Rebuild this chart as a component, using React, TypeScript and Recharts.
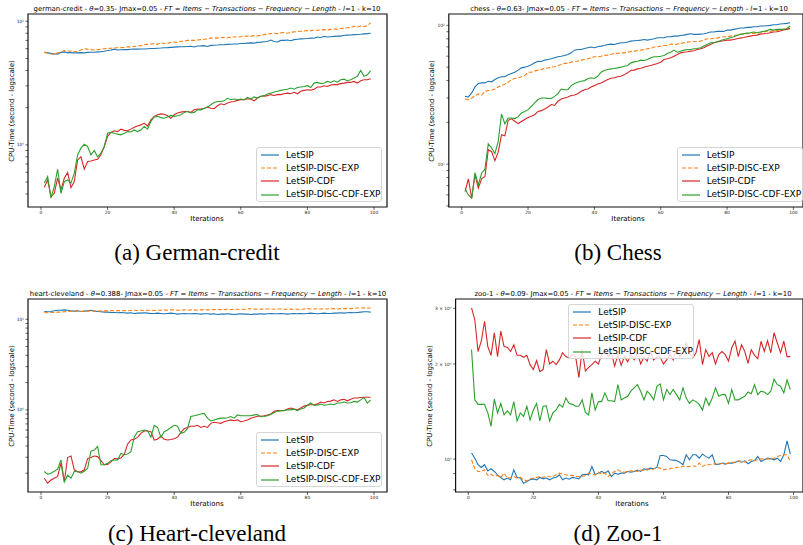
import React from 'react';
import { LineChart, Line, XAxis, YAxis, Legend, ReferenceArea } from 'recharts';

const iterations = [
  1, 2, 3, 4, 5, 6, 7, 8, 9, 10, 11, 12, 13, 14, 15, 16, 17, 18, 19, 20,
  21, 22, 23, 24, 25, 26, 27, 28, 29, 30, 31, 32, 33, 34, 35, 36, 37, 38, 39, 40,
  41, 42, 43, 44, 45, 46, 47, 48, 49, 50, 51, 52, 53, 54, 55, 56, 57, 58, 59, 60,
  61, 62, 63, 64, 65, 66, 67, 68, 69, 70, 71, 72, 73, 74, 75, 76, 77, 78, 79, 80,
  81, 82, 83, 84, 85, 86, 87, 88, 89, 90, 91, 92, 93, 94, 95, 96, 97, 98, 99,
];

const seriesNames = ['LetSIP', 'LetSIP-DISC-EXP', 'LetSIP-CDF', 'LetSIP-DISC-CDF-EXP'];
const seriesColors = ['#1f77b4', '#ff7f0e', '#d62728', '#2ca02c'];
const seriesDash = [undefined, '4 2', undefined, undefined];
const xTicks = [0, 20, 40, 60, 80, 100];

// german-credit
const germanLetSIP = [
  5.6, 5.55, 5.5, 5.45, 5.42, 5.6, 5.65, 5.55, 5.6, 5.55, 5.55, 5.57, 5.55, 5.6, 5.62, 5.62, 5.65, 5.68, 5.72, 5.8,
  5.85, 5.95, 5.85, 5.88, 5.9, 5.9, 5.93, 5.95, 5.95, 5.97, 5.97, 6.0, 6.02, 6.02, 6.05, 6.07, 6.1, 6.12, 6.15, 6.18,
  6.2, 6.22, 6.22, 6.25, 6.28, 6.2, 6.3, 6.32, 6.35, 6.25, 6.38, 6.4, 6.42, 6.45, 6.45, 6.5, 6.52, 6.55, 6.55, 6.6,
  6.6, 6.65, 6.68, 6.65, 6.75, 6.78, 6.82, 6.85, 7.05, 6.85, 6.8, 7.0, 7.0, 7.05, 6.95, 7.1, 7.15, 7.2, 7.22, 7.25,
  7.3, 7.28, 7.45, 7.35, 7.55, 7.45, 7.5, 7.55, 7.6, 7.58, 7.7, 7.72, 7.75, 7.8, 7.82, 7.85, 7.9, 7.95, 8.0,
];
const germanDiscExp = [
  5.6, 5.55, 5.45, 5.4, 5.55, 5.65, 5.8, 5.75, 5.75, 5.65, 5.7, 5.85, 6.0, 5.95, 5.9, 5.85, 5.9, 5.95, 6.0, 6.05,
  6.05, 6.1, 6.1, 6.12, 6.15, 6.2, 6.2, 6.25, 6.3, 6.35, 6.45, 6.5, 6.55, 6.6, 6.5, 6.7, 6.6, 6.65, 6.75, 6.8,
  6.75, 6.9, 6.9, 7.0, 7.0, 7.0, 7.05, 7.1, 7.15, 7.2, 7.3, 7.35, 7.3, 7.4, 7.4, 7.35, 7.45, 7.45, 7.5, 7.5,
  7.55, 7.6, 7.55, 7.65, 7.6, 7.7, 7.8, 7.85, 7.95, 8.0, 7.95, 8.05, 8.1, 8.0, 8.15, 8.2, 8.25, 8.3, 8.35, 8.4,
  8.4, 8.45, 8.45, 8.5, 8.55, 8.5, 8.6, 8.65, 8.6, 8.75, 8.8, 8.85, 8.9, 9.1, 9.0, 9.15, 9.05, 9.2, 9.7,
];
const germanCdf = [
  0.454, 0.52, 0.381, 0.405, 0.537, 0.432, 0.537, 0.597, 0.45, 0.504, 0.755, 0.8, 0.635, 0.733, 0.74, 0.755, 0.765, 0.83, 0.97, 1.17,
  1.26, 1.3, 1.28, 1.34, 1.31, 1.3, 1.34, 1.39, 1.42, 1.45, 1.5, 1.42, 1.59, 1.7, 1.75, 1.78, 1.77, 1.72, 1.64, 1.75,
  1.81, 1.84, 1.86, 1.86, 1.83, 1.92, 1.95, 1.95, 1.98, 2.02, 1.98, 1.96, 2.07, 2.15, 2.11, 2.18, 2.22, 2.24, 2.29, 2.32,
  2.32, 2.36, 2.35, 2.27, 2.39, 2.47, 2.47, 2.5, 2.55, 2.51, 2.55, 2.55, 2.59, 2.62, 2.59, 2.66, 2.59, 2.71, 2.76, 2.79,
  2.77, 2.82, 2.94, 2.94, 3.01, 2.97, 3.05, 3.07, 3.07, 3.13, 3.16, 3.2, 3.2, 3.26, 3.16, 3.3, 3.36, 3.36, 3.43,
];
const germanDiscCdfExp = [
  0.49, 0.553, 0.37, 0.46, 0.635, 0.405, 0.504, 0.52, 0.49, 0.59, 0.83, 0.94, 1.01, 0.97, 0.83, 0.9, 0.8, 0.855, 0.97, 1.24,
  1.26, 1.24, 1.22, 1.205, 1.24, 1.28, 1.27, 1.32, 1.28, 1.32, 1.41, 1.34, 1.55, 1.68, 1.7, 1.66, 1.64, 1.68, 1.73, 1.7,
  1.72, 1.75, 1.83, 1.86, 1.81, 1.83, 1.92, 1.92, 1.97, 2.02, 2.11, 2.2, 2.24, 2.24, 2.27, 2.38, 2.32, 2.35, 2.32, 2.35,
  2.32, 2.42, 2.35, 2.44, 2.39, 2.47, 2.5, 2.58, 2.62, 2.68, 2.71, 2.76, 2.79, 2.82, 2.88, 2.82, 2.91, 2.94, 2.97, 3.01,
  2.91, 3.16, 3.2, 3.13, 3.16, 3.26, 3.2, 3.3, 3.22, 3.36, 3.4, 3.3, 3.36, 3.47, 3.58, 4.0, 3.58, 3.69, 3.98,
];

// chess
const chessLetSIP = [
  30.8, 30.5, 32.6, 36.0, 38.1, 38.5, 38.5, 39.6, 39.2, 40.7, 41.9, 42.6, 42.6, 44.0, 45.0, 46.0, 47.6, 49.4, 50.0, 50.8,
  52.0, 53.7, 55.2, 54.9, 56.2, 56.8, 57.4, 58.4, 59.4, 60.0, 60.7, 61.7, 63.4, 66.3, 67.0, 67.0, 68.2, 69.0, 69.8, 69.0,
  70.2, 70.9, 71.7, 72.9, 73.3, 72.9, 74.1, 74.9, 74.9, 75.8, 77.0, 77.5, 77.9, 78.3, 79.2, 78.3, 79.2, 80.1, 81.4, 81.4,
  81.4, 82.8, 82.8, 83.7, 83.7, 84.6, 85.1, 86.1, 87.0, 86.1, 86.1, 86.5, 87.0, 88.0, 89.5, 89.5, 90.5, 90.5, 90.5, 92.5,
  92.5, 93.6, 94.6, 95.7, 95.7, 96.7, 96.7, 97.8, 97.8, 98.9, 98.9, 99.4, 100, 101.1, 101.1, 102.2, 102.8, 103.4, 104.5,
];
const chessDiscExp = [
  29.5, 29.2, 30.0, 31.2, 32.1, 31.5, 33.5, 33.9, 34.1, 34.8, 36.0, 36.8, 37.7, 38.9, 40.7, 41.4, 41.9, 42.6, 43.5, 46.0,
  46.0, 46.8, 47.6, 48.1, 48.9, 49.4, 50.0, 50.3, 51.4, 52.3, 53.2, 53.2, 54.3, 55.2, 55.2, 56.2, 56.8, 57.4, 58.4, 59.4,
  59.4, 60.0, 60.7, 61.0, 61.7, 62.8, 62.8, 63.4, 63.4, 64.1, 64.9, 65.2, 65.9, 66.3, 67.0, 67.8, 68.5, 69.8, 70.2, 70.9,
  71.7, 71.7, 73.3, 72.9, 73.3, 74.1, 74.9, 75.8, 76.2, 76.2, 76.6, 77.0, 78.3, 80.1, 80.1, 80.5, 81.0, 82.3, 82.8, 82.8,
  83.7, 84.6, 85.1, 86.1, 86.5, 87.0, 87.5, 87.5, 88.0, 88.5, 89.5, 90.5, 90.5, 91.5, 92.0, 92.5, 93.6, 94.6, 95.7,
];
const chessCdf = [
  6.34, 7.83, 5.68, 8.38, 6.71, 7.83, 8.14, 12.7, 12.3, 10.6, 12.2, 16.3, 16.0, 20.7, 21.2, 20.4, 19.6, 20.3, 21.0, 21.7,
  22.1, 22.7, 24.0, 24.3, 25.0, 25.8, 26.9, 26.5, 28.4, 29.5, 30.0, 30.5, 31.2, 31.5, 32.2, 33.5, 34.4, 34.8, 36.0, 36.8,
  37.8, 38.5, 39.6, 40.7, 41.6, 41.9, 42.6, 43.0, 44.0, 45.5, 47.3, 47.6, 48.6, 49.1, 50.0, 50.8, 51.4, 52.3, 53.2, 54.3,
  56.8, 57.4, 58.4, 60.0, 61.7, 63.4, 64.1, 64.5, 65.2, 65.6, 67.0, 67.8, 69.0, 70.9, 72.9, 74.9, 75.8, 77.0, 77.5, 78.3,
  78.3, 79.2, 80.1, 81.0, 81.8, 82.8, 83.7, 84.6, 85.1, 86.5, 87.0, 87.5, 88.5, 89.5, 90.0, 91.0, 92.5, 93.6, 94.6,
];
const chessDiscCdfExp = [
  6.71, 6.0, 5.68, 8.7, 7.1, 8.6, 9.2, 14.0, 13.1, 11.9, 14.6, 23.0, 19.5, 21.5, 21.5, 21.3, 21.9, 23.4, 24.0, 24.7,
  26.1, 27.6, 29.2, 30.0, 30.0, 29.8, 29.7, 30.8, 32.2, 34.8, 34.4, 34.4, 36.8, 38.1, 38.9, 39.6, 40.0, 41.2, 41.9, 41.4,
  43.0, 46.0, 47.3, 48.1, 48.6, 48.9, 49.4, 50.0, 50.8, 51.4, 53.7, 54.6, 55.2, 56.2, 55.9, 56.8, 58.4, 59.4, 59.4, 60.0,
  60.7, 62.8, 64.1, 66.3, 64.1, 65.2, 66.3, 67.0, 67.0, 67.8, 68.2, 69.0, 70.9, 72.9, 74.9, 74.9, 76.2, 77.5, 79.2, 80.1,
  81.4, 82.8, 84.6, 86.1, 87.0, 88.0, 88.5, 89.5, 88.5, 89.5, 90.5, 92.0, 93.6, 92.5, 93.6, 93.6, 93.6, 94.6, 99.0,
];

// heart-cleveland
const heartLetSIP = [
  12.2, 12.1, 12.2, 12.4, 12.6, 12.6, 12.7, 12.6, 12.4, 12.3, 12.4, 12.2, 12.3, 12.4, 12.6, 12.3, 12.2, 12.1, 12.0, 12.0,
  11.9, 11.9, 11.8, 11.9, 11.8, 11.7, 11.8, 11.6, 11.7, 11.7, 11.8, 11.7, 11.6, 11.6, 11.7, 11.6, 11.5, 11.6, 11.7, 11.6,
  11.4, 11.5, 11.6, 11.5, 11.5, 11.6, 11.5, 11.4, 11.5, 11.5, 11.4, 11.5, 11.3, 11.4, 11.4, 11.5, 11.4, 11.3, 11.4, 11.5,
  11.4, 11.4, 11.3, 11.4, 11.4, 11.5, 11.4, 11.5, 11.6, 11.5, 11.5, 11.6, 11.5, 11.4, 11.5, 11.6, 11.5, 11.6, 11.5, 11.6,
  11.7, 11.6, 11.5, 11.6, 11.7, 11.6, 11.6, 11.7, 11.7, 11.8, 11.7, 11.8, 11.9, 11.8, 11.9, 12.0, 12.1, 12.1, 12.0,
];
const heartDiscExp = [
  11.9, 11.8, 11.9, 11.9, 12.0, 12.0, 12.1, 12.2, 12.3, 12.3, 12.3, 12.2, 12.3, 12.3, 12.4, 12.3, 12.4, 12.3, 12.4, 12.4,
  12.5, 12.4, 12.5, 12.4, 12.5, 12.4, 12.5, 12.6, 12.5, 12.6, 12.5, 12.6, 12.6, 12.5, 12.6, 12.6, 12.7, 12.6, 12.7, 12.7,
  12.6, 12.5, 12.7, 12.6, 12.7, 12.7, 12.6, 12.7, 12.8, 12.7, 12.7, 12.8, 12.9, 12.8, 12.8, 12.9, 12.8, 12.9, 12.9, 12.8,
  12.9, 13.0, 13.1, 13.0, 12.9, 13.0, 12.9, 13.0, 13.0, 12.9, 13.0, 13.0, 12.9, 12.9, 13.0, 12.9, 12.9, 12.8, 13.0, 13.1,
  13.0, 13.0, 13.1, 13.0, 13.1, 13.0, 13.1, 13.1, 13.0, 13.1, 13.1, 13.2, 13.1, 13.2, 13.3, 13.3, 13.4, 13.3, 13.3,
];
const heartCdf = [
  0.176, 0.155, 0.168, 0.176, 0.184, 0.258, 0.162, 0.298, 0.31, 0.218, 0.207, 0.207, 0.218, 0.29, 0.298, 0.31, 0.305, 0.275, 0.248, 0.25,
  0.267, 0.29, 0.288, 0.294, 0.322, 0.418, 0.465, 0.475, 0.497, 0.55, 0.585, 0.585, 0.575, 0.465, 0.475, 0.515, 0.475, 0.465, 0.47, 0.48,
  0.5, 0.56, 0.62, 0.64, 0.66, 0.66, 0.675, 0.64, 0.66, 0.64, 0.71, 0.73, 0.72, 0.71, 0.74, 0.76, 0.775, 0.76, 0.775, 0.74,
  0.755, 0.775, 0.81, 0.83, 0.85, 0.85, 0.86, 0.88, 0.9, 0.965, 0.98, 0.98, 0.98, 1.02, 1.05, 1.02, 1.0, 1.05, 1.1, 1.125,
  1.14, 1.14, 1.165, 1.22, 1.19, 1.24, 1.25, 1.29, 1.24, 1.29, 1.31, 1.26, 1.31, 1.35, 1.35, 1.37, 1.38, 1.38, 1.38,
];
const heartDiscCdfExp = [
  0.209, 0.195, 0.2, 0.21, 0.222, 0.28, 0.16, 0.19, 0.176, 0.209, 0.209, 0.2, 0.21, 0.226, 0.35, 0.36, 0.394, 0.248, 0.248, 0.257,
  0.275, 0.28, 0.28, 0.33, 0.32, 0.325, 0.345, 0.5, 0.575, 0.585, 0.6, 0.59, 0.5, 0.675, 0.64, 0.5, 0.575, 0.6, 0.64, 0.675,
  0.66, 0.55, 0.565, 0.62, 0.845, 0.86, 0.88, 0.9, 0.915, 0.81, 0.755, 0.775, 0.795, 0.81, 0.81, 0.82, 0.845, 0.81, 0.88, 0.86,
  0.86, 0.86, 0.86, 0.88, 0.89, 0.84, 0.845, 0.86, 0.89, 0.935, 0.965, 0.98, 0.985, 1.0, 1.0, 1.02, 0.98, 1.02, 1.05, 1.125,
  1.19, 1.125, 1.125, 1.16, 1.125, 1.14, 1.16, 1.14, 1.19, 1.19, 1.22, 1.19, 1.2, 1.24, 1.22, 1.29, 1.37, 1.19, 1.29,
];

// zoo-1
const zooLetSIP = [
  1.045, 1.007, 0.96, 0.941, 0.96, 0.918, 0.932, 0.914, 0.892, 0.875, 0.86, 0.871, 0.86, 0.925, 0.875, 0.871, 0.839, 0.85, 0.86, 0.866,
  0.86, 0.875, 0.866, 0.871, 0.86, 0.871, 0.875, 0.892, 0.86, 0.871, 0.864, 0.875, 0.871, 0.866, 0.892, 0.896, 0.892, 0.948, 0.892, 0.903,
  0.914, 0.903, 0.918, 0.881, 0.903, 0.896, 0.903, 0.903, 0.914, 0.909, 0.914, 0.923, 0.914, 0.932, 0.925, 0.936, 0.932, 0.941, 1.027, 1.027,
  1.02, 0.995, 0.993, 0.99, 0.978, 0.96, 1.032, 0.995, 1.032, 1.032, 1.007, 1.037, 1.02, 1.007, 1.032, 0.96, 0.964, 0.971, 0.964, 0.971,
  0.971, 0.976, 0.988, 0.978, 0.988, 0.967, 0.983, 0.99, 1.02, 0.983, 0.995, 1.007, 1.002, 0.995, 1.007, 0.983, 1.032, 1.143, 1.037,
];
const zooDiscExp = [
  0.995, 0.932, 0.914, 0.914, 0.925, 0.888, 0.896, 0.881, 0.888, 0.875, 0.903, 0.871, 0.875, 0.881, 0.871, 0.875, 0.86, 0.854, 0.866, 0.871,
  0.875, 0.881, 0.875, 0.884, 0.881, 0.879, 0.892, 0.903, 0.896, 0.892, 0.888, 0.888, 0.881, 0.881, 0.881, 0.888, 0.903, 0.896, 0.892, 0.909,
  0.896, 0.903, 0.881, 0.903, 0.914, 0.925, 0.914, 0.909, 0.914, 0.918, 0.918, 0.914, 0.923, 0.921, 0.932, 0.925, 0.93, 0.941, 0.936, 0.925,
  0.93, 0.932, 0.936, 0.941, 0.943, 0.948, 0.948, 0.948, 0.9525, 0.948, 0.971, 0.948, 0.96, 0.96, 0.964, 0.967, 0.964, 0.969, 0.967, 0.971,
  0.976, 0.978, 0.983, 0.988, 0.978, 0.99, 0.995, 0.988, 0.995, 1.002, 1.0, 1.002, 1.0, 1.007, 1.02, 1.027, 1.032, 1.032, 0.983,
];
const zooCdf = [
  3.01, 2.76, 2.19, 2.36, 2.73, 2.27, 2.13, 2.51, 2.11, 2.54, 2.27, 2.26, 2.19, 2.3, 2.13, 2.13, 2.1, 2.13, 1.99, 1.92,
  2.05, 1.89, 1.92, 2.22, 2.0, 2.04, 1.99, 2.06, 2.17, 2.11, 2.09, 2.14, 2.11, 1.81, 2.22, 1.9, 1.95, 1.99, 2.04, 2.0,
  2.14, 2.22, 2.11, 2.17, 1.97, 2.14, 1.98, 2.11, 2.03, 2.14, 2.06, 2.17, 2.0, 2.1, 2.04, 2.19, 2.06, 2.11, 2.1, 2.0,
  2.06, 2.14, 2.06, 2.25, 2.11, 2.17, 2.33, 2.19, 2.09, 2.17, 2.39, 1.99, 2.22, 2.11, 2.17, 2.0, 2.14, 2.19, 2.14, 2.04,
  2.25, 2.36, 2.11, 2.3, 2.19, 2.01, 2.22, 2.13, 2.08, 2.36, 2.19, 2.37, 2.17, 2.51, 2.33, 2.17, 2.36, 2.11, 2.11,
];
const zooDiscCdfExp = [
  2.22, 1.54, 1.49, 1.49, 1.49, 1.4, 1.27, 1.55, 1.4, 1.5, 1.38, 1.42, 1.38, 1.52, 1.32, 1.4, 1.365, 1.47, 1.33, 1.43,
  1.5, 1.32, 1.47, 1.475, 1.32, 1.4, 1.43, 1.49, 1.46, 1.56, 1.5, 1.49, 1.47, 1.47, 1.54, 1.405, 1.38, 1.62, 1.43, 1.52,
  1.52, 1.62, 1.53, 1.53, 1.52, 1.72, 1.54, 1.56, 1.58, 1.64, 1.68, 1.72, 1.64, 1.54, 1.64, 1.6, 1.54, 1.7, 1.73, 1.54,
  1.66, 1.6, 1.66, 1.6, 1.54, 1.68, 1.56, 1.5, 1.54, 1.52, 1.49, 1.43, 1.56, 1.48, 1.56, 1.68, 1.58, 1.6, 1.6, 1.5,
  1.66, 1.54, 1.54, 1.56, 1.58, 1.63, 1.61, 1.72, 1.6, 1.64, 1.63, 1.6, 1.64, 1.79, 1.72, 1.7, 1.62, 1.78, 1.66,
];

const FONT = '"DejaVu Sans", Verdana, sans-serif';
const SERIF = '"Liberation Serif", "DejaVu Serif", serif';
const Y_W = 14;
const X_H = 10;

type PanelCfg = {
  box: { left: number; top: number; width: number; height: number };
  plot: { left: number; top: number; right: number; bottom: number };
  xDomain: [number, number];
  yDomain: [number, number];
  yTicks: number[];
  yLabels: Record<string, string>;
  series: number[][];
  name: string;
  theta: string;
  titleX: number;
  xLabelX: number;
  yLabelX: number;
  legendAt: { left: number; top: number };
  caption: string;
  captionX: number;
  captionY: number;
};

const NB = '\u00A0';

const panels: PanelCfg[] = [
  {
    box: { left: 0, top: 0, width: 400, height: 232 },
    plot: { left: 28, top: 14, right: 387, bottom: 207 },
    xDomain: [-3.9, 103.9],
    yDomain: [0.314, 11.45],
    yTicks: [0.4, 0.5, 0.6, 0.7, 0.8, 0.9, 1, 2, 3, 4, 5, 6, 7, 8, 9, 10],
    yLabels: { '1': '10⁰', '10': '10¹' },
    series: [germanLetSIP, germanDiscExp, germanCdf, germanDiscCdfExp],
    name: 'german-credit',
    theta: '0.35',
    titleX: 207,
    xLabelX: 207,
    yLabelX: 12,
    legendAt: { left: 256, top: 147 },
    caption: '(a) German-credit',
    captionX: 197,
    captionY: 252,
  },
  {
    box: { left: 400, top: 0, width: 403, height: 232 },
    plot: { left: 448.8, top: 14, right: 803, bottom: 207 },
    xDomain: [-3.9, 102.9],
    yDomain: [4.91, 120.8],
    yTicks: [5, 6, 7, 8, 9, 10, 20, 30, 40, 50, 60, 70, 80, 90, 100],
    yLabels: { '10': '10¹', '100': '10²' },
    series: [chessLetSIP, chessDiscExp, chessCdf, chessDiscCdfExp],
    name: 'chess',
    theta: '0.63',
    titleX: 629,
    xLabelX: 628,
    yLabelX: 432,
    legendAt: { left: 276.7, top: 147 },
    caption: '(b) Chess',
    captionX: 618,
    captionY: 252,
  },
  {
    box: { left: 0, top: 285, width: 400, height: 232 },
    plot: { left: 28, top: 299, right: 387, bottom: 492 },
    xDomain: [-3.9, 103.9],
    yDomain: [0.124, 16.75],
    yTicks: [0.2, 0.3, 0.4, 0.5, 0.6, 0.7, 0.8, 0.9, 1, 2, 3, 4, 5, 6, 7, 8, 9, 10],
    yLabels: { '1': '10⁰', '10': '10¹' },
    series: [heartLetSIP, heartDiscExp, heartCdf, heartDiscCdfExp],
    name: 'heart-cleveland',
    theta: '0.388',
    titleX: 208,
    xLabelX: 207,
    yLabelX: 12,
    legendAt: { left: 256, top: 147 },
    caption: '(c) Heart-cleveland',
    captionX: 197,
    captionY: 533,
  },
  {
    box: { left: 400, top: 285, width: 403, height: 232 },
    plot: { left: 455.6, top: 299, right: 803, bottom: 492 },
    xDomain: [-3.9, 102.9],
    yDomain: [0.787, 3.21],
    yTicks: [0.8, 0.9, 1, 2, 3],
    yLabels: { '1': '10⁰', '2': `2${NB}×${NB}10⁰`, '3': `3${NB}×${NB}10⁰` },
    series: [zooLetSIP, zooDiscExp, zooCdf, zooDiscCdfExp],
    name: 'zoo-1',
    theta: '0.09',
    titleX: 633,
    xLabelX: 632,
    yLabelX: 430,
    legendAt: { left: 168.3, top: 19 },
    caption: '(d) Zoo-1',
    captionX: 618,
    captionY: 533,
  },
];

// legend keeps the plotting order of the series
const LegendBox = (props: any) => {
  const payload: any[] = props.payload || [];
  const items = seriesNames.map((n, k) => {
    const hit = payload.find((p) => p.value === n);
    return { value: n, color: hit?.color ?? seriesColors[k], k };
  });
  return (
    <div
      style={{
        width: 126,
        height: 55,
        boxSizing: 'border-box',
        border: '1px solid #d6d6d6',
        borderRadius: 3,
        background: 'rgba(255,255,255,0.8)',
        paddingTop: 0.5,
        fontFamily: FONT,
        fontSize: 9,
        color: '#000',
      }}
    >
      {items.map((it) => (
        <div key={it.value} style={{ display: 'flex', alignItems: 'center', height: 13.2, whiteSpace: 'nowrap' }}>
          <svg width={22} height={4} style={{ flex: 'none' }}>
            <line x1={4} x2={22} y1={2} y2={2} stroke={it.color} strokeWidth={1.2} strokeDasharray={seriesDash[it.k]} />
          </svg>
          <span style={{ marginLeft: 7, lineHeight: 1 }}>{it.value}</span>
        </div>
      ))}
    </div>
  );
};

const Title = ({ name, theta }: { name: string; theta: string }) => (
  <span>
    {name} - <i>θ</i>={theta}- Jmax=0.05 - <i>FT</i> = <i>Items</i> − <i>Transactions</i> − <i>Frequency</i> −{' '}
    <i>Length</i> - <i>l</i>=1 - k=10
  </span>
);

const centered = (x: number, y: number, extra?: React.CSSProperties): React.CSSProperties => ({
  position: 'absolute',
  left: x,
  top: y,
  transform: 'translate(-50%, -50%)',
  whiteSpace: 'nowrap',
  lineHeight: 1,
  fontFamily: FONT,
  color: '#000',
  ...extra,
});

function Panel({ cfg }: { cfg: PanelCfg }) {
  const { box, plot } = cfg;
  const [s0, s1, s2, s3] = cfg.series;
  const rows = iterations.map((it, i) => ({ it, s0: s0[i], s1: s1[i], s2: s2[i], s3: s3[i] }));
  const margin = {
    top: plot.top - box.top,
    left: plot.left - box.left - Y_W,
    right: box.left + box.width - plot.right,
    bottom: box.top + box.height - plot.bottom - X_H,
  };
  const midY = (plot.top + plot.bottom) / 2;

  return (
    <>
      <div style={{ position: 'absolute', left: box.left, top: box.top, width: box.width, height: box.height }}>
        <LineChart width={box.width} height={box.height} data={rows} margin={margin}>
          <XAxis
            dataKey="it"
            type="number"
            domain={cfg.xDomain}
            ticks={xTicks}
            allowDataOverflow
            height={X_H}
            tickSize={3}
            tickMargin={0.5}
            tick={{ fontSize: 4.4, fill: '#222', fontFamily: FONT }}
            tickLine={{ stroke: '#000', strokeWidth: 0.6 }}
            axisLine={false}
          />
          <YAxis
            type="number"
            scale="log"
            domain={cfg.yDomain}
            ticks={cfg.yTicks}
            allowDataOverflow
            width={Y_W}
            tickSize={2.5}
            tickMargin={1.5}
            interval={0}
            tick={{ fontSize: 4.4, fill: '#222', fontFamily: FONT }}
            tickLine={{ stroke: '#000', strokeWidth: 0.6 }}
            tickFormatter={(v: number) => cfg.yLabels[String(v)] ?? ''}
            axisLine={false}
          />
          <ReferenceArea
            x1={cfg.xDomain[0]}
            x2={cfg.xDomain[1]}
            y1={cfg.yDomain[0]}
            y2={cfg.yDomain[1]}
            fill="none"
            fillOpacity={0}
            stroke="#111"
            strokeWidth={1.2}
            ifOverflow="visible"
          />
          {seriesNames.map((n, k) => (
            <Line
              key={n}
              type="linear"
              dataKey={`s${k}`}
              name={n}
              stroke={seriesColors[k]}
              strokeWidth={1.1}
              strokeDasharray={seriesDash[k]}
              dot={false}
              activeDot={false}
              isAnimationActive={false}
            />
          ))}
          <Legend
            layout="vertical"
            align="center"
            verticalAlign="middle"
            content={LegendBox}
            wrapperStyle={{ left: cfg.legendAt.left, top: cfg.legendAt.top, width: 126, height: 55 }}
          />
        </LineChart>
      </div>
      <div style={centered(cfg.titleX, box.top + 8.5, { fontSize: 6.9 })}>
        <Title name={cfg.name} theta={cfg.theta} />
      </div>
      <div style={centered(cfg.xLabelX, plot.bottom + 12, { fontSize: 7 })}>Iterations</div>
      <div style={centered(cfg.yLabelX, midY, { fontSize: 7, transform: 'translate(-50%, -50%) rotate(-90deg)' })}>
        CPU-Time (second - logscale)
      </div>
      <div style={centered(cfg.captionX, cfg.captionY, { fontFamily: SERIF, fontSize: 23 })}>{cfg.caption}</div>
    </>
  );
}

export default function App() {
  return (
    <div style={{ position: 'absolute', left: 0, top: 0, width: 803, height: 545, overflow: 'hidden', background: '#fff' }}>
      {panels.map((p) => (
        <Panel key={p.name} cfg={p} />
      ))}
    </div>
  );
}
